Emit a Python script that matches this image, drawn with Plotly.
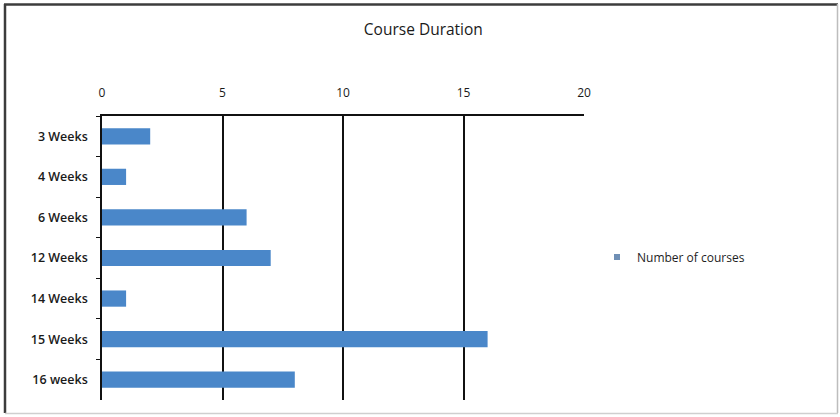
import plotly.graph_objects as go

categories = ["3 Weeks", "4 Weeks", "6 Weeks", "12 Weeks", "14 Weeks", "15 Weeks", "16 weeks"]
courses = [2, 1, 6, 7, 1, 16, 8]
x_ticks = [0, 5, 10, 15, 20]
series_name = "Number of courses"
title_text = "Course Duration"

W, H = 840, 417
L, R, T, B = 102, 584, 116, 400

def px(p):
    return (p - L) / (R - L)

def py(q):
    return (B - q) / (B - T)

fig = go.Figure()
fig.add_trace(go.Bar(
    y=categories, x=courses, orientation="h", name=series_name,
    marker=dict(color="#4a87c9", line=dict(width=0)), width=0.4,
    showlegend=False,
))
# legend entry with a small square symbol
fig.add_trace(go.Scatter(
    x=[None], y=[None], mode="markers", name=series_name,
    marker=dict(symbol="square", size=6, color="#6f8fb5"),
    showlegend=True, hoverinfo="skip",
))

fig.update_layout(
    width=W, height=H,
    margin=dict(l=L, r=W - R, t=T, b=H - B, pad=0),
    paper_bgcolor="white", plot_bgcolor="white",
    font=dict(family="Open Sans, Noto Sans, sans-serif", size=12, color="#1e1e1e"),
    title=dict(text=title_text, x=0.504, xanchor="center", xref="container",
               y=1 - 30 / H, yanchor="middle", yref="container",
               font=dict(size=15.5, color="#1a1a1a")),
    showlegend=True,
    legend=dict(x=px(597), y=py(257), xanchor="left", yanchor="middle",
                bgcolor="rgba(0,0,0,0)", font=dict(size=12, color="#1e1e1e"),
                itemwidth=30),
)

fig.update_xaxes(
    side="top", range=[0, 20], tickvals=x_ticks, ticktext=[str(v) for v in x_ticks],
    showgrid=True, gridcolor="#111", gridwidth=1.5,
    showline=True, linecolor="#111", linewidth=1.5,
    ticks="", ticklabelstandoff=12, zeroline=False, fixedrange=True,
    tickfont=dict(size=12, color="#1a1a1a"),
)
fig.update_yaxes(
    categoryorder="array", categoryarray=categories, autorange="reversed",
    showline=True, linecolor="#111", linewidth=1.5,
    ticks="outside", ticklen=4, tickcolor="#111", tickson="boundaries",
    ticklabelstandoff=10, showgrid=False, zeroline=False, fixedrange=True,
    tickfont=dict(size=12.5, color="#1a1a1a", weight=600),
)

# outer frame
fig.add_shape(type="line", xref="paper", yref="paper",
              x0=px(4), x1=px(838), y0=py(4.5), y1=py(4.5),
              line=dict(color="#3c3c3c", width=2.5))
fig.add_shape(type="line", xref="paper", yref="paper",
              x0=px(5), x1=px(5), y0=py(4), y1=py(413),
              line=dict(color="#3c3c3c", width=2.5))
fig.add_shape(type="line", xref="paper", yref="paper",
              x0=px(837.5), x1=px(837.5), y0=py(4), y1=py(413),
              line=dict(color="#bdbdbd", width=1.5))
fig.add_shape(type="line", xref="paper", yref="paper",
              x0=px(5), x1=px(838), y0=py(413.5), y1=py(413.5),
              line=dict(color="#cfcfcf", width=1.5))

fig.write_html("out.html")
